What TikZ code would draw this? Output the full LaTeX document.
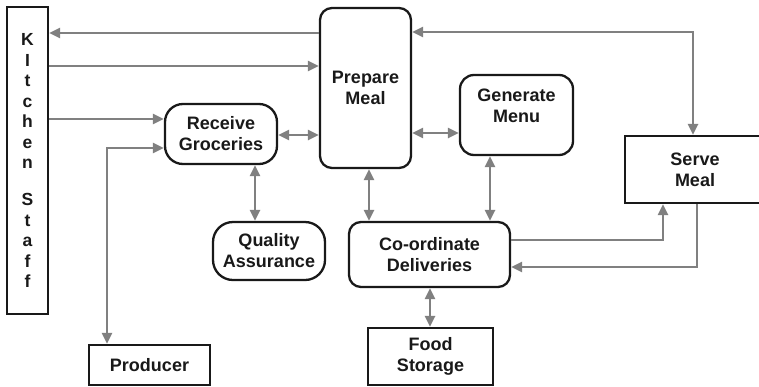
\documentclass[tikz,border=0pt]{standalone}
\usepackage{fontspec}
\setmainfont{Liberation Sans}
\usetikzlibrary{arrows.meta}
\definecolor{edge}{RGB}{128,128,128}
\definecolor{ink}{RGB}{25,25,25}
\begin{document}
\begin{tikzpicture}[x=1pt,y=-1pt,
  >={Triangle[length=11pt,width=10pt]},
  lbl/.style={font=\bfseries\fontsize{18}{21}\selectfont, text=ink, align=center},
  box/.style={lbl, draw=ink, line width=2.3pt, inner sep=0pt},
  rbox/.style={box, rounded corners=#1},
  rbox/.default=12pt,
  link/.style={draw=edge, line width=2.8pt, ->},
  both/.style={draw=edge, line width=2.8pt, <->},
]
\fill[white] (0,0) rectangle (759,386);
\useasboundingbox (0,0) rectangle (759,386);

% activities and actors
\node[box, minimum width=41pt, minimum height=307pt,
      font=\bfseries\fontsize{17.5}{20.5}\selectfont] (kitchen) at (27.5,160.5)
      {K\\I\\t\\c\\h\\e\\n\\[16.5pt]S\\t\\a\\f\\f};
\node[rbox=12pt, minimum width=91pt, minimum height=160pt] (prepare) at (365.5,88) {Prepare\\Meal};
\node[rbox=18pt, minimum width=112pt, minimum height=60pt] (receive) at (221,134) {Receive\\Groceries};
\node[rbox=14pt, minimum width=113pt, minimum height=80pt,
      label={[lbl,yshift=9.5pt]center:{Generate\\Menu}}] (generate) at (516.5,115) {};
\node[box, minimum width=140pt, minimum height=67pt] (serve) at (695,169.5) {Serve\\Meal};
\node[rbox=20pt, minimum width=112pt, minimum height=58pt] (quality) at (269,251) {Quality\\Assurance};
\node[rbox=12pt, minimum width=161pt, minimum height=65pt] (coord) at (429.5,254.5) {Co-ordinate\\Deliveries};
\node[box, minimum width=125pt, minimum height=57pt] (food) at (430.5,356.5) {Food\\Storage};
\node[box, minimum width=121pt, minimum height=40pt] (producer) at (149.5,365) {Producer};

% routing guides
\coordinate (y32) at (0,32);
\coordinate (y33) at (0,33);
\coordinate (y66) at (0,66);
\coordinate (y119) at (0,119);
\coordinate (y133) at (0,133);
\coordinate (y135) at (0,135);
\coordinate (y148) at (0,148);
\coordinate (y240) at (0,240);
\coordinate (y267) at (0,267);
\coordinate (x107) at (107,0);
\coordinate (x255) at (255,0);
\coordinate (x369) at (369,0);
\coordinate (x430) at (430,0);
\coordinate (x490) at (490,0);
\coordinate (x663) at (663,0);
\coordinate (x693) at (693,0);
\coordinate (x697) at (697,0);

% flows
\draw[link] (prepare.west |- y33) -- (kitchen.east |- y33);
\draw[link] (kitchen.east |- y66) -- (prepare.west |- y66);
\draw[link] (kitchen.east |- y119) -- (receive.west |- y119);
\draw[both] (receive.west |- y148) -| (x107 |- producer.north);
\draw[both] (receive.east |- y135) -- (prepare.west |- y135);
\draw[both] (receive.south -| x255) -- (quality.north -| x255);
\draw[both] (prepare.south -| x369) -- (coord.north -| x369);
\draw[both] (prepare.east |- y133) -- (generate.west |- y133);
\draw[both] (generate.south -| x490) -- (coord.north -| x490);
\draw[both] (prepare.east |- y32) -| (serve.north -| x693);
\draw[link] (coord.east |- y240) -| (serve.south -| x663);
\draw[link] (serve.south -| x697) |- (coord.east |- y267);
\draw[both] (coord.south -| x430) -- (food.north -| x430);
\end{tikzpicture}
\end{document}
